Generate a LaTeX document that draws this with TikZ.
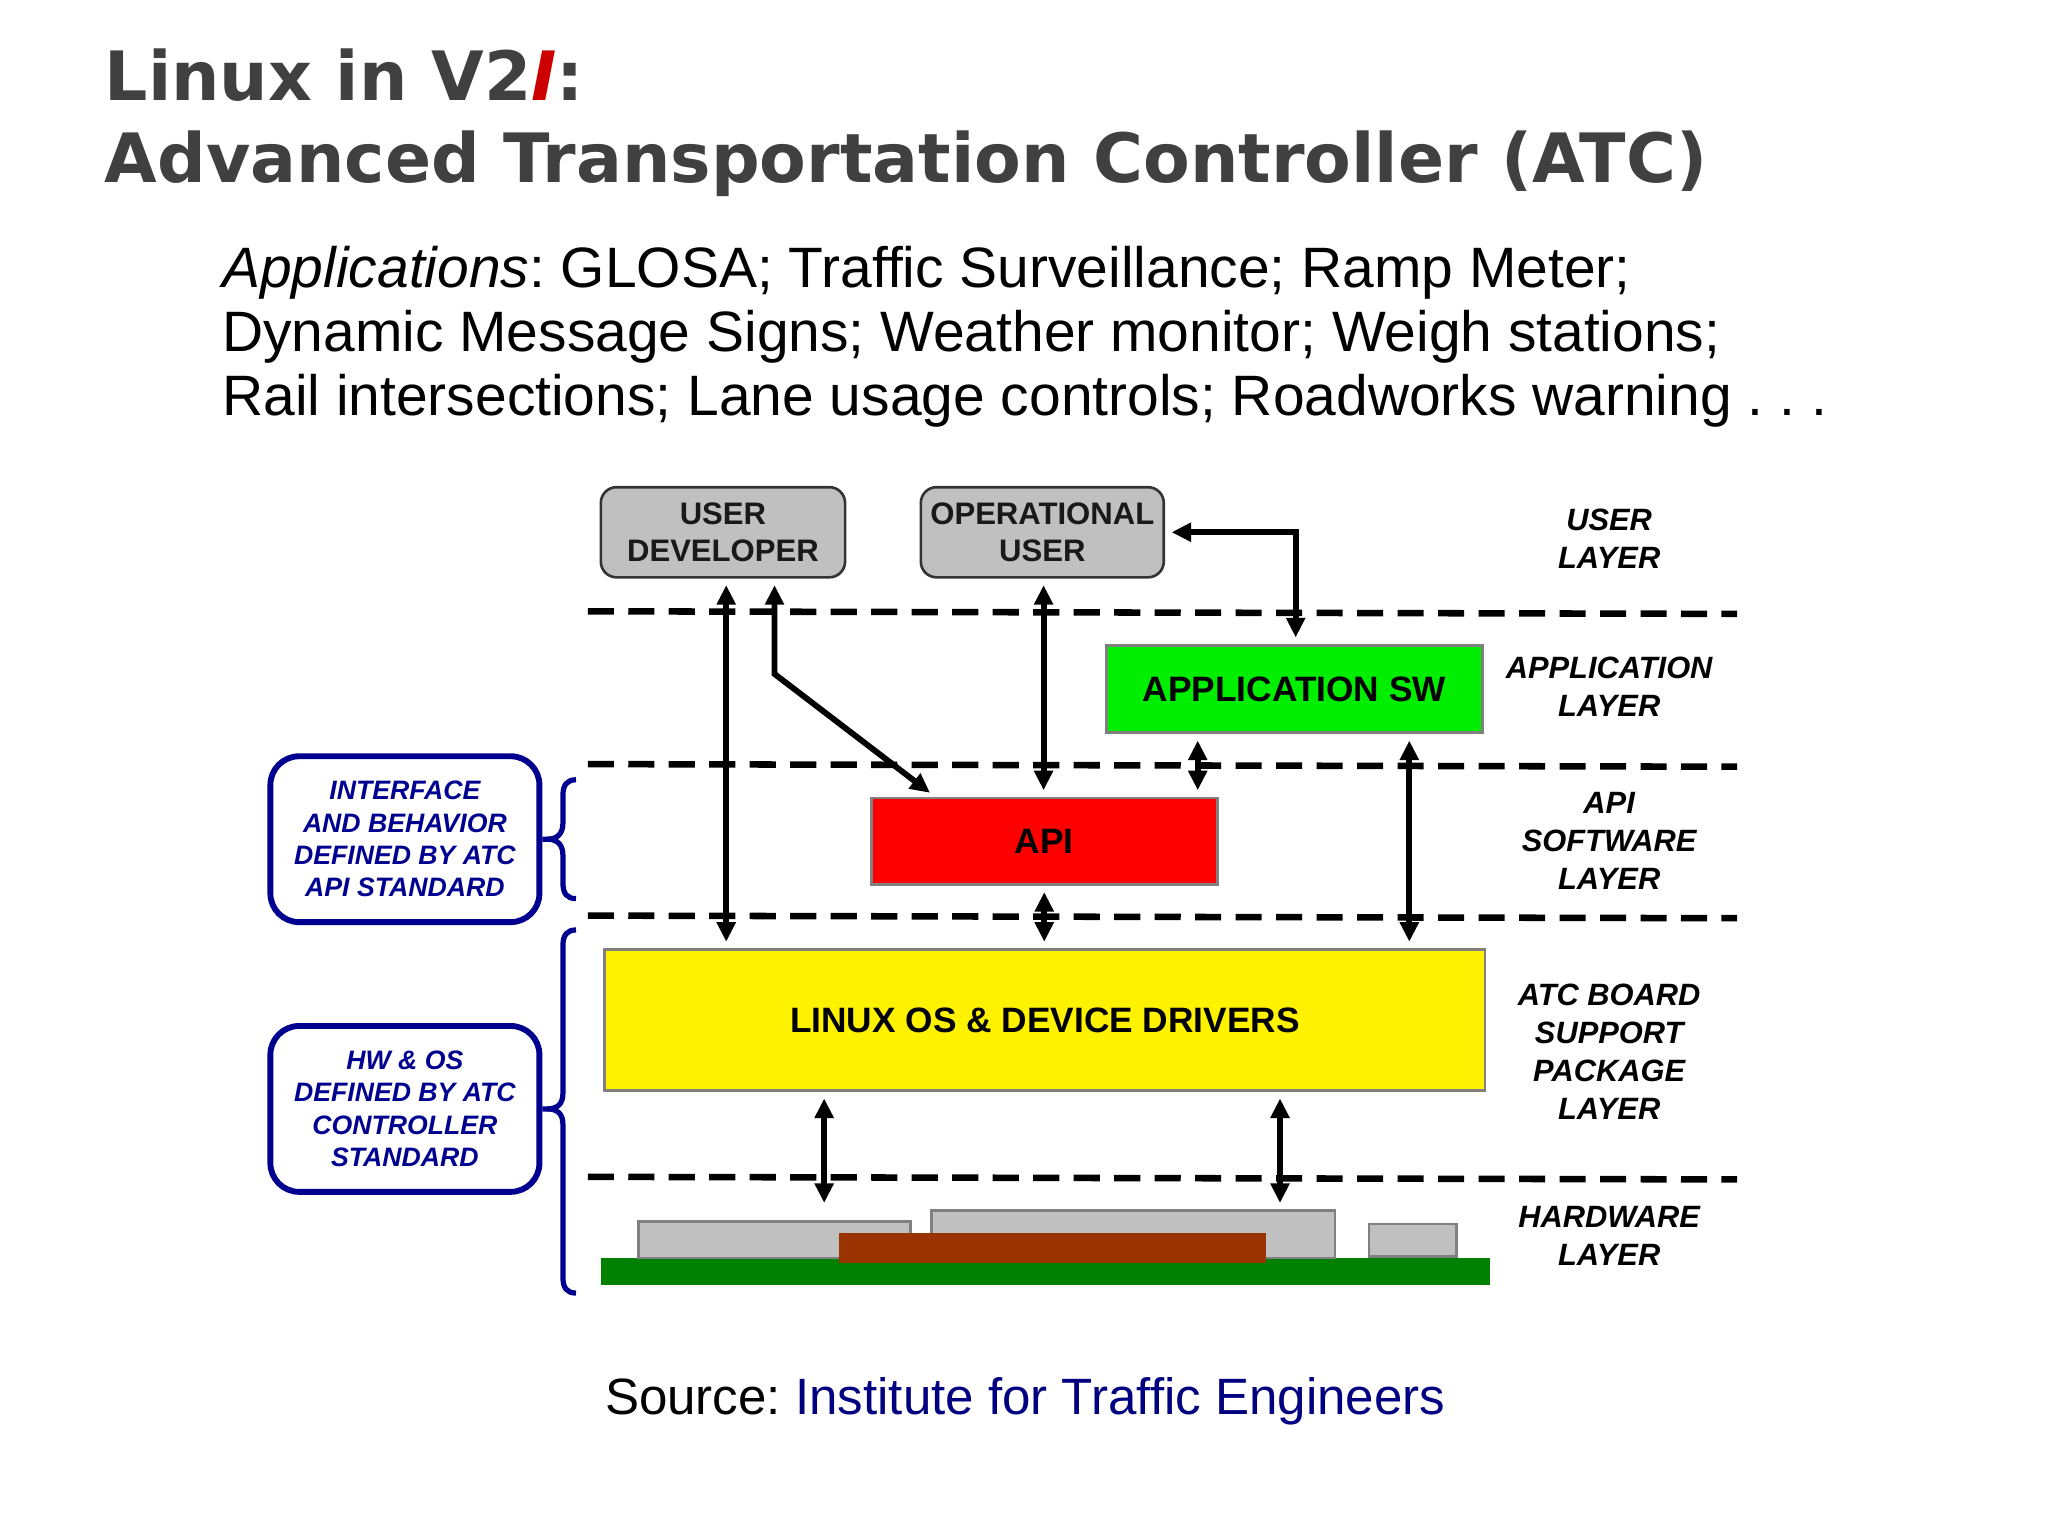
\documentclass[tikz,border=0pt]{standalone}
\usepackage{fontspec}
\setmainfont{Liberation Sans}
\newfontfamily\titlefont{DejaVu Sans}
\usetikzlibrary{arrows.meta}
\definecolor{titlegray}{HTML}{404040}
\definecolor{titlered}{HTML}{CC0000}
\definecolor{boxgray}{HTML}{C0C0C0}
\definecolor{edgegray}{HTML}{808080}
\definecolor{appgreen}{HTML}{00EE00}
\definecolor{navy}{HTML}{000090}
\definecolor{linkblue}{HTML}{000080}
\definecolor{board}{HTML}{008000}
\definecolor{chip}{HTML}{993300}
\frenchspacing
\begin{document}
\begin{tikzpicture}[x=1pt,y=-1pt,
  userbox/.style={draw=black!80, line width=2pt, fill=boxgray, rounded corners=12pt, minimum width=187pt, minimum height=69pt, inner sep=0pt, align=center, font=\fontsize{23.8}{28}\selectfont\bfseries, text=black!90},
  swbox/.style={draw=edgegray, line width=2pt, inner sep=0pt, font=\fontsize{27}{32}\selectfont\bfseries},
  layerlabel/.style={align=center, inner sep=0pt, font=\fontsize{23.6}{29}\selectfont\bfseries\itshape},
  stdbox/.style={draw=navy, line width=4.5pt, rounded corners=22pt, minimum width=206pt, minimum height=127pt, inner sep=0pt, align=center, text=navy, font=\fontsize{20.4}{24.7}\selectfont\bfseries\itshape},
  dbl/.style={line width=4.5pt, {Triangle[length=15pt,width=14pt]}-{Triangle[length=15pt,width=14pt]}, shorten <=5pt, shorten >=5pt},
  layerline/.style={line width=5pt, dash pattern=on 20pt off 11pt},
  hwpart/.style={draw=edgegray, line width=2pt, fill=boxgray, inner sep=0pt},
  bracepath/.style={draw=navy, line width=4pt},
  titletext/.style={anchor=base west, inner sep=0pt, text=titlegray, font=\titlefont\fontsize{52.1}{60}\selectfont\bfseries},
  bodytext/.style={anchor=base west, inner sep=0pt, font=\fontsize{43.6}{49}\selectfont}
]
\useasboundingbox[fill=white] (0,0) rectangle (1568,1176);

% titles
\node[titletext] (t1) at (80,77) {Linux in V2{\color{titlered}\itshape I}:};
\node[titletext] (t2) at (80,140) {Advanced Transportation Controller (ATC)};
\node[bodytext] (b1) at (170,220) {{\itshape Applications}: GLOSA; Traffic Surveillance; Ramp Meter;};
\node[bodytext] (b2) at (170,269) {Dynamic Message Signs; Weather monitor; Weigh stations;};
\node[bodytext] (b3) at (170,318) {Rail intersections; Lane usage controls; Roadworks warning . . .};
\node[anchor=base west, inner sep=0pt, font=\fontsize{39.1}{45}\selectfont] (src) at (463,1083) {Source: \textcolor{linkblue}{Institute for Traffic Engineers}};

% layer separators
\draw[layerline] (450,468) -- (1330,470);
\draw[layerline] (450,585) -- (1330,587);
\draw[layerline] (450,701) -- (1330,703);
\draw[layerline] (450,901) -- (1330,903);

% boxes
\node[userbox] (ud) at (553.5,407.5) {USER\\DEVELOPER};
\node[userbox, minimum width=186pt] (ou) at (798,407.5) {OPERATIONAL\\USER};
\node[swbox, fill=appgreen, minimum width=288pt, minimum height=67pt] (app) at (991,527.5) {APPLICATION SW};
\node[swbox, fill=red, minimum width=265pt, minimum height=66pt] (api) at (799.5,644) {API};
\node[swbox, fill=yellow, minimum width=674pt, minimum height=108pt] (linux) at (800,781) {LINUX OS \& DEVICE DRIVERS};

% layer labels
\node[layerlabel] (lu) at (1232,412.5) {USER\\LAYER};
\node[layerlabel] (la) at (1232,526) {APPLICATION\\LAYER};
\node[layerlabel] (ls) at (1232,644) {API\\SOFTWARE\\LAYER};
\node[layerlabel] (lb) at (1232,805) {ATC BOARD\\SUPPORT\\PACKAGE\\LAYER};
\node[layerlabel] (lh) at (1232,946.5) {HARDWARE\\LAYER};

% hardware
\node[fill=board, inner sep=0pt, minimum width=681pt, minimum height=21pt] (brd) at (800.5,973.5) {};
\node[hwpart, minimum width=208pt, minimum height=28pt] (hw1) at (593,949) {};
\node[hwpart, minimum width=309pt, minimum height=36pt] (hw2) at (867.5,945) {};
\node[hwpart, minimum width=67pt, minimum height=25pt] (hw3) at (1081.5,949.5) {};
\node[fill=chip, inner sep=0pt, minimum width=327pt, minimum height=23pt] (chip) at (805.5,955.5) {};

% standards boxes
\node[stdbox] (s1) at (310,642.5) {INTERFACE\\AND BEHAVIOR\\DEFINED BY ATC\\API STANDARD};
\node[stdbox] (s2) at (310,849) {HW \& OS\\DEFINED BY ATC\\CONTROLLER\\STANDARD};

% braces
\draw[bracepath] (s1.east) -- (419,642.5) .. controls (427,642.5) and (431,638) .. (431,630) -- (431,609) .. controls (431,601) and (434,597) .. (441,597);
\draw[bracepath] (419,642.5) .. controls (427,642.5) and (431,647) .. (431,655) -- (431,676) .. controls (431,684) and (434,688) .. (441,688);
\draw[bracepath] (s2.east) -- (419,849) .. controls (427,849) and (431,845) .. (431,837) -- (431,724) .. controls (431,716) and (434,712) .. (441,712);
\draw[bracepath] (419,849) .. controls (427,849) and (431,853) .. (431,861) -- (431,978) .. controls (431,986) and (434,990) .. (441,990);

% connectors
\draw[dbl] ([xshift=2.5pt]ud.south) -- ([xshift=2.5pt]ud.south |- linux.north);
\draw[dbl] ([xshift=39.5pt]ud.south) -- ([xshift=39.5pt,yshift=-73pt]ud.south) -- ([xshift=-83.5pt]api.north);
\draw[dbl] ([xshift=1pt]ou.south) -- ([xshift=1pt]ou.south |- api.north);
\draw[dbl] (ou.east) -| ([xshift=1pt]app.north);
\draw[dbl] ([xshift=-74pt]app.south) -- ([xshift=-74pt]app.south |- api.north);
\draw[dbl] ([xshift=88pt]app.south) -- ([xshift=88pt]app.south |- linux.north);
\draw[dbl] (api.south) -- (api.south |- linux.north);
\draw[dbl] ([xshift=-169pt]linux.south) -- ([xshift=-169pt]linux.south |- hw2.north);
\draw[dbl] ([xshift=180pt]linux.south) -- ([xshift=180pt]linux.south |- hw2.north);
\end{tikzpicture}
\end{document}
